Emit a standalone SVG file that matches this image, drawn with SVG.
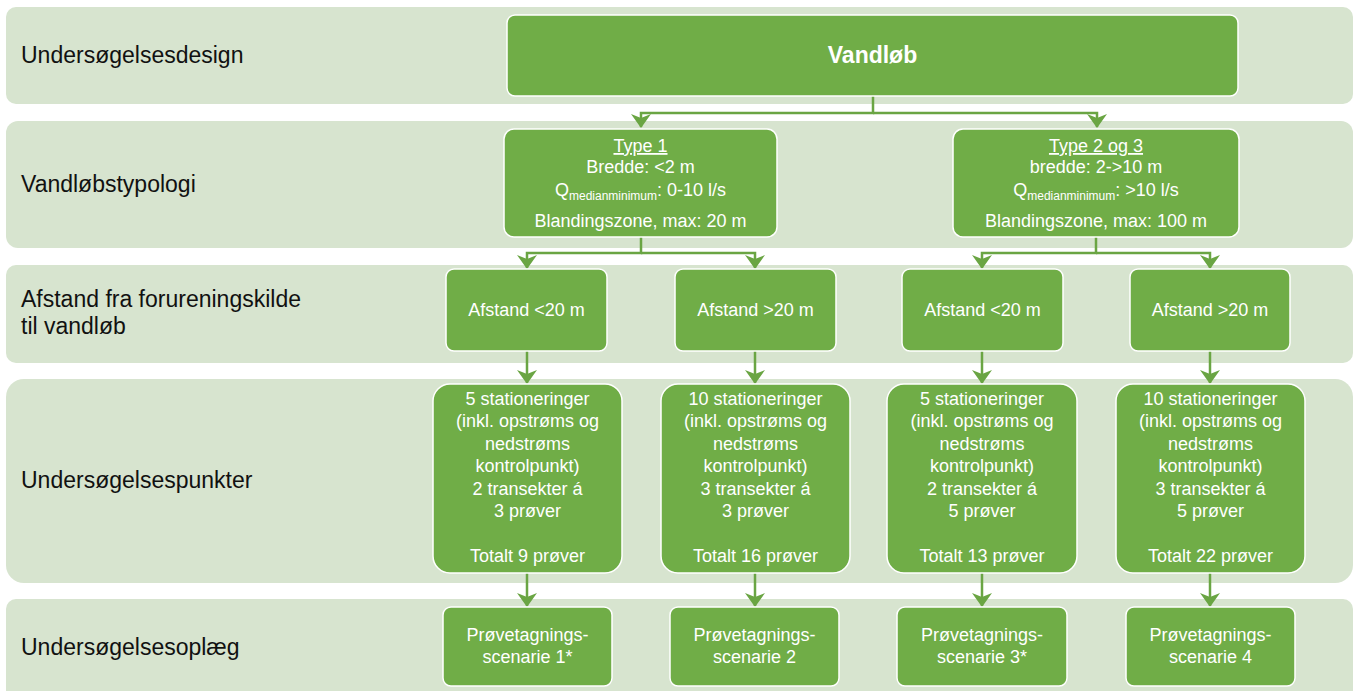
<svg xmlns="http://www.w3.org/2000/svg" width="1360" height="691" viewBox="0 0 1360 691">
  <defs>
    <style>
      .band { fill: #D7E4CF; }
      .box { fill: #70AD47; stroke: #FFFFFF; stroke-width: 1.5; }
      .lbl { font-family: "Liberation Sans", Arial, sans-serif; font-size: 23px; fill: #111111; }
      .txt { font-family: "Liberation Sans", Arial, sans-serif; font-size: 18px; fill: #FFFFFF; text-anchor: middle; }
      .big { font-family: "Liberation Sans", Arial, sans-serif; font-size: 23px; font-weight: bold; fill: #FFFFFF; text-anchor: middle; }
      .sub { font-size: 12px; }
      .conn { fill: none; stroke: #6AA543; stroke-width: 2.5; }
    </style>
    <marker id="arrow" markerUnits="userSpaceOnUse" viewBox="0 0 14 20" markerWidth="14" markerHeight="20" refX="13" refY="10" orient="auto">
      <path d="M0,0 L14,10 L0,20 L4,10 z" fill="#6AA543"/>
    </marker>
  </defs>

  <!-- row backgrounds -->
  <g id="rows">
    <rect class="band" x="6" y="7" width="1347" height="97" rx="10"/>
    <rect class="band" x="6" y="121" width="1347" height="127" rx="12"/>
    <rect class="band" x="6" y="265" width="1347" height="98" rx="10"/>
    <rect class="band" x="6" y="379" width="1347" height="204" rx="18"/>
    <rect class="band" x="6" y="599" width="1347" height="110" rx="10"/>
  </g>

  <!-- row titles -->
  <g id="row-labels">
    <text class="lbl" x="21" y="63">Undersøgelsesdesign</text>
    <text class="lbl" x="21" y="192">Vandløbstypologi</text>
    <text class="lbl" x="21" y="307">Afstand fra forureningskilde</text>
    <text class="lbl" x="21" y="334">til vandløb</text>
    <text class="lbl" x="21" y="488">Undersøgelsespunkter</text>
    <text class="lbl" x="21" y="655">Undersøgelsesoplæg</text>
  </g>

  <!-- connectors -->
  <g id="connectors">
    <path class="conn" d="M873,96 V113 H641 V127" marker-end="url(#arrow)"/>
    <path class="conn" d="M873,113 H1097 V127" marker-end="url(#arrow)"/>
    <path class="conn" d="M641,237 V253 H527 V268" marker-end="url(#arrow)"/>
    <path class="conn" d="M641,253 H755 V268" marker-end="url(#arrow)"/>
    <path class="conn" d="M1096,237 V253 H982 V268" marker-end="url(#arrow)"/>
    <path class="conn" d="M1096,253 H1210 V268" marker-end="url(#arrow)"/>
    <path class="conn" d="M527,351 V383" marker-end="url(#arrow)"/>
    <path class="conn" d="M755,351 V383" marker-end="url(#arrow)"/>
    <path class="conn" d="M982,351 V383" marker-end="url(#arrow)"/>
    <path class="conn" d="M1210,351 V383" marker-end="url(#arrow)"/>
    <path class="conn" d="M527,573 V606" marker-end="url(#arrow)"/>
    <path class="conn" d="M755,573 V606" marker-end="url(#arrow)"/>
    <path class="conn" d="M982,573 V606" marker-end="url(#arrow)"/>
    <path class="conn" d="M1210,573 V606" marker-end="url(#arrow)"/>
  </g>

  <g id="vandloeb">
    <rect class="box" x="507" y="15" width="731" height="81" rx="8"/>
    <text class="big" x="872.5" y="63">Vandløb</text>
  </g>

  <g id="type1">
    <rect class="box" x="504" y="129" width="273" height="108" rx="10"/>
    <text class="txt" x="640.5" y="152" text-decoration="underline">Type 1</text>
    <text class="txt" x="640.5" y="173">Bredde: &lt;2 m</text>
    <text class="txt" x="640.5" y="196">Q<tspan class="sub" dy="4">medianminimum</tspan><tspan dy="-4">: 0-10 l/s</tspan></text>
    <text class="txt" x="640.5" y="227">Blandingszone, max: 20 m</text>
  </g>

  <g id="type23">
    <rect class="box" x="953" y="129" width="286" height="108" rx="10"/>
    <text class="txt" x="1096" y="152" text-decoration="underline">Type 2 og 3</text>
    <text class="txt" x="1096" y="173">bredde: 2-&gt;10 m</text>
    <text class="txt" x="1096" y="196">Q<tspan class="sub" dy="4">medianminimum</tspan><tspan dy="-4">: &gt;10 l/s</tspan></text>
    <text class="txt" x="1096" y="227">Blandingszone, max: 100 m</text>
  </g>

  <g id="afstand-1">
    <rect class="box" x="446" y="269" width="161" height="82" rx="8"/>
    <text class="txt" x="526.5" y="316">Afstand &lt;20 m</text>
  </g>
  <g id="afstand-2">
    <rect class="box" x="675" y="269" width="161" height="82" rx="8"/>
    <text class="txt" x="755.5" y="316">Afstand &gt;20 m</text>
  </g>
  <g id="afstand-3">
    <rect class="box" x="902" y="269" width="161" height="82" rx="8"/>
    <text class="txt" x="982.5" y="316">Afstand &lt;20 m</text>
  </g>
  <g id="afstand-4">
    <rect class="box" x="1130" y="269" width="160" height="82" rx="8"/>
    <text class="txt" x="1210" y="316">Afstand &gt;20 m</text>
  </g>

  <g id="punkter-1">
    <rect class="box" x="433" y="384" width="189" height="189" rx="17"/>
    <text class="txt" x="527.5" y="405">5 stationeringer</text>
    <text class="txt" x="527.5" y="427.4">(inkl. opstrøms og</text>
    <text class="txt" x="527.5" y="449.8">nedstrøms</text>
    <text class="txt" x="527.5" y="472.2">kontrolpunkt)</text>
    <text class="txt" x="527.5" y="494.6">2 transekter á</text>
    <text class="txt" x="527.5" y="517">3 prøver</text>
    <text class="txt" x="527.5" y="561.8">Totalt 9 prøver</text>
  </g>
  <g id="punkter-2">
    <rect class="box" x="661" y="384" width="189" height="189" rx="17"/>
    <text class="txt" x="755.5" y="405">10 stationeringer</text>
    <text class="txt" x="755.5" y="427.4">(inkl. opstrøms og</text>
    <text class="txt" x="755.5" y="449.8">nedstrøms</text>
    <text class="txt" x="755.5" y="472.2">kontrolpunkt)</text>
    <text class="txt" x="755.5" y="494.6">3 transekter á</text>
    <text class="txt" x="755.5" y="517">3 prøver</text>
    <text class="txt" x="755.5" y="561.8">Totalt 16 prøver</text>
  </g>
  <g id="punkter-3">
    <rect class="box" x="887" y="384" width="190" height="189" rx="17"/>
    <text class="txt" x="982" y="405">5 stationeringer</text>
    <text class="txt" x="982" y="427.4">(inkl. opstrøms og</text>
    <text class="txt" x="982" y="449.8">nedstrøms</text>
    <text class="txt" x="982" y="472.2">kontrolpunkt)</text>
    <text class="txt" x="982" y="494.6">2 transekter á</text>
    <text class="txt" x="982" y="517">5 prøver</text>
    <text class="txt" x="982" y="561.8">Totalt 13 prøver</text>
  </g>
  <g id="punkter-4">
    <rect class="box" x="1116" y="384" width="189" height="189" rx="17"/>
    <text class="txt" x="1210.5" y="405">10 stationeringer</text>
    <text class="txt" x="1210.5" y="427.4">(inkl. opstrøms og</text>
    <text class="txt" x="1210.5" y="449.8">nedstrøms</text>
    <text class="txt" x="1210.5" y="472.2">kontrolpunkt)</text>
    <text class="txt" x="1210.5" y="494.6">3 transekter á</text>
    <text class="txt" x="1210.5" y="517">5 prøver</text>
    <text class="txt" x="1210.5" y="561.8">Totalt 22 prøver</text>
  </g>

  <g id="scenarie-1">
    <rect class="box" x="443" y="607" width="169" height="79" rx="8"/>
    <text class="txt" x="527.5" y="641">Prøvetagnings-</text>
    <text class="txt" x="527.5" y="663">scenarie 1*</text>
  </g>
  <g id="scenarie-2">
    <rect class="box" x="670" y="607" width="169" height="79" rx="8"/>
    <text class="txt" x="754.5" y="641">Prøvetagnings-</text>
    <text class="txt" x="754.5" y="663">scenarie 2</text>
  </g>
  <g id="scenarie-3">
    <rect class="box" x="897" y="607" width="170" height="79" rx="8"/>
    <text class="txt" x="982" y="641">Prøvetagnings-</text>
    <text class="txt" x="982" y="663">scenarie 3*</text>
  </g>
  <g id="scenarie-4">
    <rect class="box" x="1126" y="607" width="169" height="79" rx="8"/>
    <text class="txt" x="1210.5" y="641">Prøvetagnings-</text>
    <text class="txt" x="1210.5" y="663">scenarie 4</text>
  </g>
</svg>
